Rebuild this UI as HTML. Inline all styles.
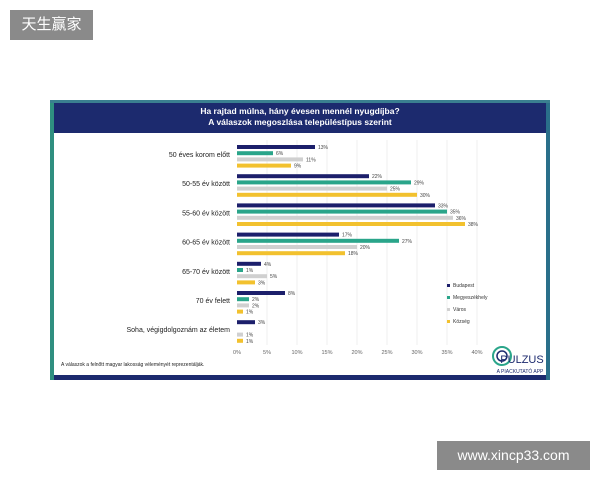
<!DOCTYPE html>
<html><head><meta charset="utf-8"><style>
body{margin:0;width:600px;height:480px;background:#fff;position:relative;overflow:hidden;font-family:"Liberation Sans","Noto Sans CJK SC",sans-serif}
</style></head><body>
<div style="position:absolute;left:10px;top:10px;width:83px;height:30px;background:#8a8a8a;color:#fff;font-size:15px;line-height:30px;text-align:center">天生赢家</div>
<div style="position:absolute;left:437px;top:441px;width:153px;height:29px;background:#8a8a8a;color:#fff;font-size:14px;line-height:29px;text-align:center">www.xincp33.com</div>
<svg style="position:absolute;left:0;top:0" width="600" height="480" font-family="Liberation Sans, sans-serif">
<rect x="50" y="100" width="500" height="280" fill="#1c2a6e"/>
<rect x="50" y="100" width="4" height="280" fill="#2f8f80"/>
<rect x="546" y="100" width="4" height="280" fill="#2a6f8a"/>
<rect x="50" y="100" width="500" height="3" fill="#3a7f90"/>
<rect x="54" y="133" width="492" height="242" fill="#fff"/>
<text x="300" y="114" fill="#fff" font-size="8.5" font-weight="bold" text-anchor="middle">Ha rajtad múlna, hány évesen mennél nyugdíjba?</text>
<text x="300" y="125" fill="#fff" font-size="8.5" font-weight="bold" text-anchor="middle">A válaszok megoszlása településtípus szerint</text>
<g stroke="#e4e4e4" stroke-width="0.6">
<line x1="267" y1="140" x2="267" y2="345"/><line x1="297" y1="140" x2="297" y2="345"/><line x1="327" y1="140" x2="327" y2="345"/><line x1="357" y1="140" x2="357" y2="345"/><line x1="387" y1="140" x2="387" y2="345"/><line x1="417" y1="140" x2="417" y2="345"/><line x1="447" y1="140" x2="447" y2="345"/><line x1="477" y1="140" x2="477" y2="345"/>
</g>
<g id="bars" font-size="5" fill="#444"></g>
<g font-size="5.5" fill="#666" text-anchor="middle">
<text x="237" y="354">0%</text><text x="267" y="354">5%</text><text x="297" y="354">10%</text><text x="327" y="354">15%</text><text x="357" y="354">20%</text><text x="387" y="354">25%</text><text x="417" y="354">30%</text><text x="447" y="354">35%</text><text x="477" y="354">40%</text>
</g>
<g font-size="5">
<rect x="447" y="284" width="3" height="3" fill="#1c1f6b"/><text x="453" y="287" fill="#333">Budapest</text>
<rect x="447" y="296" width="3" height="3" fill="#2aa58a"/><text x="453" y="299" fill="#333">Megyeszékhely</text>
<rect x="447" y="308" width="3" height="3" fill="#d0d0d0"/><text x="453" y="311" fill="#333">Város</text>
<rect x="447" y="320" width="3" height="3" fill="#f2c12e"/><text x="453" y="323" fill="#333">Község</text>
</g>
<text x="61" y="366" font-size="5" fill="#222">A válaszok a felnőtt magyar lakosság véleményét reprezentálják.</text>
<circle cx="502" cy="356" r="9" fill="none" stroke="#2aa58a" stroke-width="2"/>
<circle cx="502" cy="356" r="5" fill="none" stroke="#1c2a6e" stroke-width="1.5"/>
<text x="522" y="363" font-size="11" fill="#1c2a6e" text-anchor="middle">PULZUS</text>
<text x="520" y="373" font-size="5" fill="#1c2a6e" text-anchor="middle">A PIACKUTATÓ APP</text>
</svg>
<script>
var d=[["50 éves korom előtt",[13,6,11,9]],["50-55 év között",[22,29,25,30]],["55-60 év között",[33,35,36,38]],["60-65 év között",[17,27,20,18]],["65-70 év között",[4,1,5,3]],["70 év felett",[8,2,2,1]],["Soha, végigdolgoznám az életem",[3,0,1,1]]];
var c=["#1c1f6b","#2aa58a","#d0d0d0","#f2c12e"],g=document.getElementById("bars"),s="";
d.forEach(function(r,i){var y0=145+i*29.2;
s+='<text x="230" y="'+(y0+12)+'" font-size="7" fill="#222" text-anchor="end">'+r[0]+'</text>';
r[1].forEach(function(v,j){if(!v)return;var y=y0+j*6.2;
s+='<rect x="237" y="'+y+'" width="'+(v*6)+'" height="4" fill="'+c[j]+'"/>';
s+='<text x="'+(240+v*6)+'" y="'+(y+4)+'">'+v+'%</text>';});});
g.innerHTML=s;
</script>
</body></html>
